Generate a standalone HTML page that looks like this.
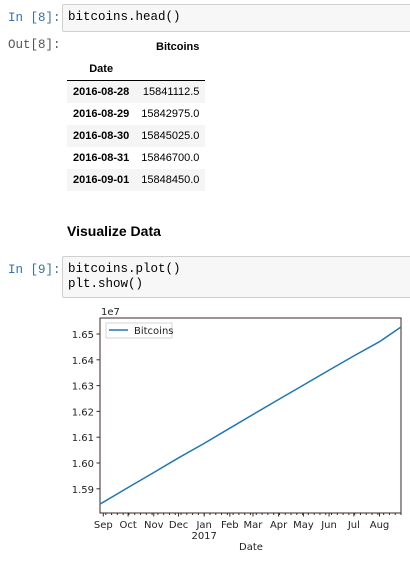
<!DOCTYPE html>
<html><head><meta charset="utf-8">
<style>
body{margin:0;width:410px;height:562px;background:#fff;position:relative;overflow:hidden;font-family:"Liberation Sans",sans-serif;}
.prompt{position:absolute;left:8px;font-family:"Liberation Mono",monospace;font-size:12.5px;}
.in{color:#3a6fa8;}
.cell{position:absolute;left:62px;width:360px;background:#f7f7f7;border:1px solid #cfcfcf;border-radius:2px;font-family:"Liberation Mono",monospace;font-size:12.5px;color:#000;padding:5px 5px;box-sizing:border-box;line-height:15px;}
table{position:absolute;left:67px;top:36px;border-collapse:collapse;font-size:11px;color:#000;}
td,th{padding:0 6px;height:22px;text-align:right;}
</style></head><body>
<div class="prompt in" style="top:11px">In [8]:</div>
<div class="cell" style="top:4px;height:28px;">bitcoins.head()</div>
<div class="prompt" style="top:38px;color:#555">Out[8]:</div>
<table>
<tr style="height:22px"><th></th><th style="font-weight:bold">Bitcoins</th></tr>
<tr style="border-bottom:1px solid #000"><th style="text-align:center">Date</th><th></th></tr>
<tr style="background:#f5f5f5"><th>2016-08-28</th><td>15841112.5</td></tr>
<tr><th>2016-08-29</th><td>15842975.0</td></tr>
<tr style="background:#f5f5f5"><th>2016-08-30</th><td>15845025.0</td></tr>
<tr><th>2016-08-31</th><td>15846700.0</td></tr>
<tr style="background:#f5f5f5"><th>2016-09-01</th><td>15848450.0</td></tr>
</table>
<div style="position:absolute;left:67px;top:223px;font-weight:bold;font-size:14px;color:#000">Visualize Data</div>
<div class="prompt in" style="top:263px">In [9]:</div>
<div class="cell" style="top:256px;height:42px;">bitcoins.plot()<br>plt.show()</div>
<svg id="chart" width="410" height="562" style="position:absolute;left:0;top:0"></svg>
<script>
const dates=["2016-08-28","2016-09-01","2016-10-01","2016-11-01","2016-12-01","2017-01-01","2017-02-01","2017-03-01","2017-04-01","2017-05-01","2017-06-01","2017-07-01","2017-08-01","2017-08-27"];
const values=[1.5841,1.5848,1.5905,1.5963,1.6020,1.6076,1.6135,1.6188,1.6246,1.6302,1.6360,1.6415,1.6470,1.6527];
const yTicks=[1.59,1.60,1.61,1.62,1.63,1.64,1.65];
const monthTicks=["2016-09-01","2016-10-01","2016-11-01","2016-12-01","2017-01-01","2017-02-01","2017-03-01","2017-04-01","2017-05-01","2017-06-01","2017-07-01","2017-08-01"];
const monthLabels=["Sep","Oct","Nov","Dec","Jan","Feb","Mar","Apr","May","Jun","Jul","Aug"];
const svg=document.getElementById('chart');
const NS="http://www.w3.org/2000/svg";
const L=100,R=401,T=318,B=513;
const d0=Date.parse("2016-08-28"),d1=Date.parse("2017-08-27");
const x=d=>L+(Date.parse(d)-d0)/(d1-d0)*(R-L);
const xt=t=>L+(t-d0)/(d1-d0)*(R-L);
const y=v=>334+(1.65-v)/0.01*25.8;
function mk(tag,attrs,parent){const e=document.createElementNS(NS,tag);for(const k in attrs)e.setAttribute(k,attrs[k]);(parent||svg).appendChild(e);return e;}
const ax='#3a2a25';
const fr=mk('rect',{x:L,y:T,width:R-L,height:B-T,fill:'none',stroke:ax,'stroke-width':1});


yTicks.forEach(v=>{
 const t=mk('line',{x1:L-3.5,x2:L,y1:y(v),y2:y(v),stroke:ax});
 
 
 const tx=mk('text',{x:L-6,y:y(v)+4,'text-anchor':'end','font-size':10,fill:'#222','font-family':'DejaVu Sans, sans-serif'});
 tx.textContent=v.toFixed(2);
 
 
});
const off=mk('text',{x:L+1,y:T-3,'font-size':10,fill:'#222','font-family':'DejaVu Sans, sans-serif'});
off.textContent='1e7';


for(let t=Date.parse("2016-09-04");t<=d1;t+=7*864e5){
 const m=mk('line',{x1:xt(t),x2:xt(t),y1:B,y2:B+2,stroke:ax});
 
 
}
monthTicks.forEach((d,i)=>{
 const t=mk('line',{x1:x(d),x2:x(d),y1:B,y2:B+3.5,stroke:ax});
 
 
 const tx=mk('text',{x:x(d),y:B+15,'text-anchor':'middle','font-size':10,fill:'#222','font-family':'DejaVu Sans, sans-serif'});
 tx.textContent=monthLabels[i];
 
 
});
const yr=mk('text',{x:x("2017-01-01"),y:B+26,'text-anchor':'middle','font-size':10,fill:'#222','font-family':'DejaVu Sans, sans-serif'});
yr.textContent='2017';


const xl=mk('text',{x:251,y:B+37,'text-anchor':'middle','font-size':10,fill:'#222','font-family':'DejaVu Sans, sans-serif'});
xl.textContent='Date';


const pts=dates.map((d,i)=>x(d).toFixed(1)+','+y(values[i]).toFixed(1)).join(' ');
const pl=mk('polyline',{points:pts,fill:'none',stroke:'#1f77b4','stroke-width':1.5});


const lg=mk('g',{});


mk('rect',{x:106,y:323,width:66,height:15,fill:'#fff',stroke:'#ccc','stroke-width':0.8},lg);
mk('line',{x1:109,x2:128,y1:330,y2:330,stroke:'#1f77b4','stroke-width':1.5},lg);
const lt=mk('text',{x:134,y:334,'font-size':10,fill:'#222','font-family':'DejaVu Sans, sans-serif'},lg);
lt.textContent='Bitcoins';
</script>
</body></html>
